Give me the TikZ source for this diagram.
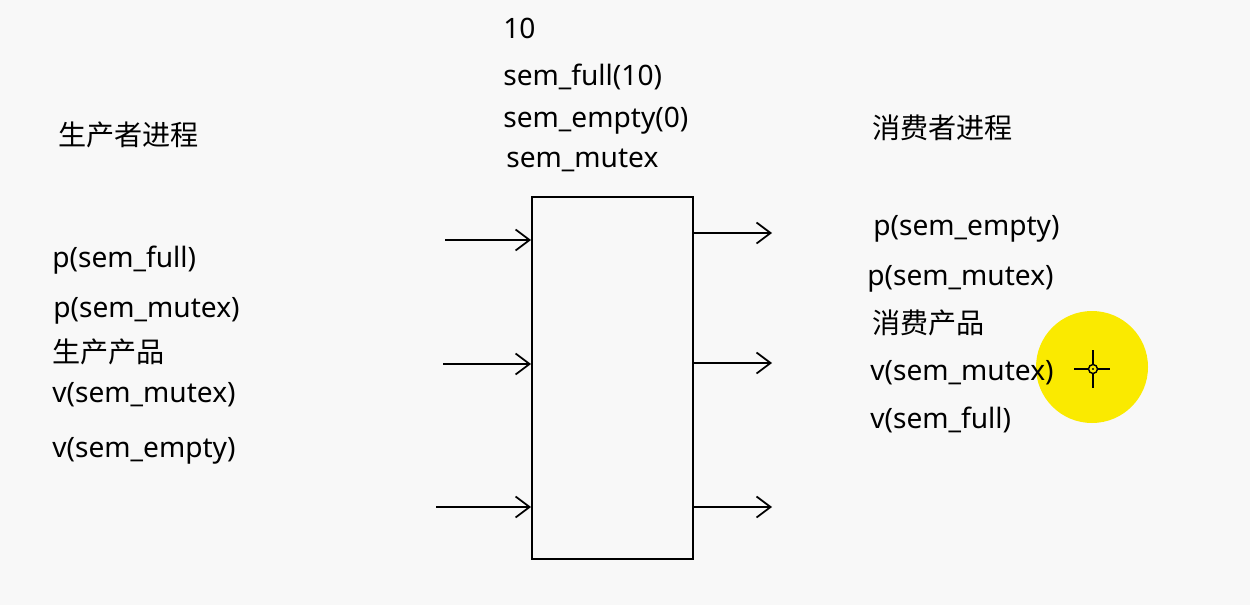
\documentclass[tikz,border=0pt]{standalone}
\usepackage{fontspec}
\setmainfont{Noto Sans}
\newfontfamily\cjk{Noto Sans CJK SC}
\usetikzlibrary{arrows.meta}
\definecolor{bgcol}{RGB}{248,248,248}
\definecolor{hilite}{RGB}{250,234,0}

\begin{document}
\begin{tikzpicture}[x=0.02cm, y=-0.02cm,
  lbl/.style={anchor=base west, inner sep=0pt, font=\fontsize{16}{19}\selectfont},
  arr/.style={black, line width=1.1pt, -{Straight Barb[length=0.28cm, width=0.42cm, line width=1pt]}}]
\fill[bgcol] (0,0) rectangle (1250,605);
\useasboundingbox (0,0) rectangle (1250,605);
% cursor highlight
\fill[hilite] (1092,367) circle (56);
\draw[black, thick] (1074,369)--(1088,369) (1098,369)--(1110,369) (1093,350)--(1093,364) (1093,374)--(1093,388);
\draw[black, thick] (1093,369) circle (4.5);
\fill[black] (1093,369) circle (1.2);
% semaphores
\node[lbl] (n10)  at (503,38)  {10};
\node[lbl] (sfull) at (503,85)  {sem\_full(10)};
\node[lbl] (sempty) at (503,127) {sem\_empty(0)};
\node[lbl] (smutex) at (506,167) {sem\_mutex};
% buffer
\node[draw, line width=1.1pt, minimum width=3.22cm, minimum height=7.24cm, inner sep=0pt] (buf) at (612.5,378) {};
% producer
\node[lbl] (prod) at (58,145)  {\cjk 生产者进程};
\node[lbl] (pp1)  at (52,267)  {p(sem\_full)};
\node[lbl] (pp2)  at (53,317)  {p(sem\_mutex)};
\node[lbl] (pp3)  at (52,362)  {\cjk 生产产品};
\node[lbl] (pp4)  at (52,402)  {v(sem\_mutex)};
\node[lbl] (pp5)  at (52,457)  {v(sem\_empty)};
% consumer
\node[lbl] (cons) at (872,138)  {\cjk 消费者进程};
\node[lbl] (cc1)  at (873,235)  {p(sem\_empty)};
\node[lbl] (cc2)  at (867,285)  {p(sem\_mutex)};
\node[lbl] (cc3)  at (872,333)  {\cjk 消费产品};
\node[lbl] (cc4)  at (870,380)  {v(sem\_mutex)};
\node[lbl] (cc5)  at (870,428)  {v(sem\_full)};
% arrows in / out
\foreach \i/\xs/\y in {1/445/240, 2/443/364, 3/436/507} {
 \coordinate (in\i) at (\xs,\y);
 \draw[arr] (in\i) -- (in\i -| buf.west);
}
\foreach \i/\y in {1/233, 2/363, 3/507} {
 \coordinate (out\i) at (772,\y);
 \draw[arr] (out\i -| buf.east) -- (out\i);
}
\end{tikzpicture}
\end{document}
